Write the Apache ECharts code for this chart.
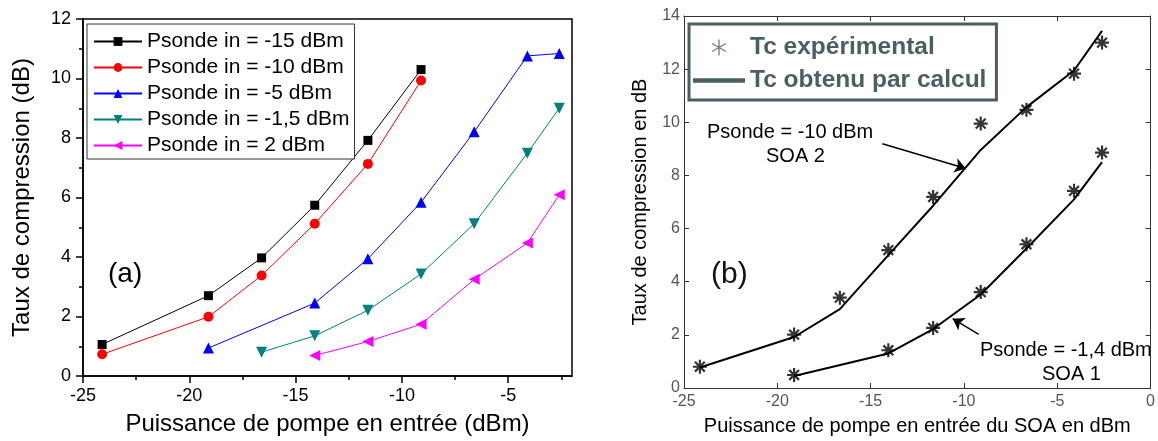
<!DOCTYPE html>
<html>
<head>
<meta charset="utf-8">
<script src="https://cdn.jsdelivr.net/npm/echarts@6/dist/echarts.min.js"></script>
<style>
html,body{margin:0;padding:0;background:#fff;}
#c{width:1158px;height:441px;}
</style>
</head>
<body>
<div id="c"></div>
<script>
// ---------- Data : panel (a) ----------
const namesA = ['Psonde in = -15 dBm','Psonde in = -10 dBm','Psonde in = -5 dBm','Psonde in = -1,5 dBm','Psonde in = 2 dBm'];
const xA15 = [-24.1,-19.1,-16.6,-14.1,-11.6,-9.1];
const yA15 = [1.06,2.70,3.97,5.74,7.92,10.30];
const xA10 = [-24.1,-19.1,-16.6,-14.1,-11.6,-9.1];
const yA10 = [0.73,1.99,3.38,5.12,7.13,9.93];
const xA5 = [-19.1,-14.1,-11.6,-9.1,-6.6,-4.1,-2.6];
const yA5 = [0.94,2.45,3.94,5.84,8.21,10.76,10.84];
const xA15b = [-16.6,-14.1,-11.6,-9.1,-6.6,-4.1,-2.6];
const yA15b = [0.80,1.35,2.21,3.43,5.12,7.49,9.00];
const xA2 = [-14.1,-11.6,-9.1,-6.6,-4.1,-2.6];
const yA2 = [0.69,1.16,1.74,3.25,4.47,6.09];
const xTicksA = [-25,-20,-15,-10,-5];
const xMinorA = [-22.5,-17.5,-12.5,-7.5,-2.5];

// ---------- Data : panel (b) ----------
const namesB = ['Tc expérimental','Tc obtenu par calcul'];
const xB2 = [-24.15,-19.1,-16.65,-14.05,-11.65,-9.1,-6.65,-4.1,-2.6];
const expSOA2 = [0.80,2.01,3.40,5.19,7.19,9.95,10.47,11.83,13.00];
const calcSOA2 = [0.77,1.92,2.97,5.00,6.86,8.96,10.57,11.95,13.44];
const xB1 = [-19.1,-14.05,-11.65,-9.1,-6.65,-4.1,-2.6];
const expSOA1 = [0.49,1.42,2.26,3.61,5.41,7.42,8.86];
const calcSOA1 = [0.45,1.30,2.22,3.52,5.25,7.10,8.50];
// annotation arrows in data units of panel (b): [from, to]
const arrowSOA2 = [[-14.37,9.19],[-9.9,8.26]];
const arrowSOA1 = [[-9.21,2.02],[-10.6,2.61]];

const zip = (xs, ys) => xs.map((x,i)=>[x, ys[i]]);
const FONT = 'Liberation Sans, Arial, sans-serif';
const SLATE = '#4a5e64';
const STAR8 = 'path://M0,-10L0,10M-10,0L10,0M-7,-7L7,7M-7,7L7,-7';
const STAR6 = 'path://M0,-10L0,10M-8.66,-5L8.66,5M-8.66,5L8.66,-5';
const BAR = 'path://M0,0L46,0L46,4L0,4Z';

const colorsA = ['#000000','#ff0000','#0000ff','#008080','#ff00ff'];
const symA = [['rect',9,0],['circle',10,0],['triangle',11,0],['triangle',11,180],['triangle',11,90]];
const dataA = [zip(xA15,yA15), zip(xA10,yA10), zip(xA5,yA5), zip(xA15b,yA15b), zip(xA2,yA2)];

const seriesA = dataA.map((d,i)=>({
  type:'line', name:namesA[i], xAxisIndex:0, yAxisIndex:0, data:d,
  symbol:symA[i][0], symbolSize:symA[i][1], symbolRotate:symA[i][2],
  lineStyle:{color:colorsA[i], width:1}, itemStyle:{color:colorsA[i]},
  animation:false, z:3
}));

const seriesB = [
  {type:'line', name:namesB[1], xAxisIndex:1, yAxisIndex:1, data:zip(xB2,calcSOA2), symbol:'none',
   lineStyle:{color:'#000', width:2}, itemStyle:{color:'#000'}, animation:false},
  {type:'line', name:namesB[1], xAxisIndex:1, yAxisIndex:1, data:zip(xB1,calcSOA1), symbol:'none',
   lineStyle:{color:'#000', width:2}, itemStyle:{color:'#000'}, animation:false},
  {type:'scatter', name:namesB[0], xAxisIndex:1, yAxisIndex:1, data:zip(xB2,expSOA2), symbol:STAR8, symbolSize:14,
   itemStyle:{color:'#000', borderColor:'#000', borderWidth:2.2}, animation:false, z:4,
   markLine:{silent:true, symbol:['none','arrow'], symbolSize:11, label:{show:false},
     lineStyle:{color:'#000', width:1.5, type:'solid'}, animation:false,
     data:[[{coord:arrowSOA2[0]},{coord:arrowSOA2[1]}],[{coord:arrowSOA1[0]},{coord:arrowSOA1[1]}]]}},
  {type:'scatter', name:namesB[0], xAxisIndex:1, yAxisIndex:1, data:zip(xB1,expSOA1), symbol:STAR8, symbolSize:14,
   itemStyle:{color:'#000', borderColor:'#000', borderWidth:2.2}, animation:false, z:4}
];

const chart = echarts.init(document.getElementById('c'), null, {renderer:'canvas'});
chart.setOption({
  backgroundColor:'#fff',
  animation:false,
  textStyle:{fontFamily:FONT},
  grid:[
    {left:83, top:19, width:489, height:363, show:true, borderColor:'#000', borderWidth:1.5, backgroundColor:'transparent'},
    {left:684, top:16, width:468, height:376}
  ],
  legend:[
    {data:namesA, orient:'vertical', left:87, top:24, itemWidth:48, itemHeight:11, itemGap:5,
     padding:[7,5,3,6], borderColor:'#333', borderWidth:1, backgroundColor:'#fff',
     textStyle:{fontSize:21, color:'#000', fontFamily:FONT, lineHeight:21}, selectedMode:false},
    {data:[{name:namesB[0], icon:STAR6, itemStyle:{color:SLATE, borderColor:SLATE, borderWidth:1.3}},
           {name:namesB[1], icon:BAR, itemStyle:{color:SLATE, borderWidth:0}}],
     orient:'vertical', left:689, top:24, itemWidth:52, itemHeight:16, itemGap:8,
     padding:[11,10,7,4], borderColor:SLATE, borderWidth:3, backgroundColor:'#fff',
     textStyle:{fontSize:24.5, fontWeight:'bold', color:SLATE, fontFamily:FONT, lineHeight:24}, selectedMode:false}
  ],
  xAxis:[
    {gridIndex:0, type:'value', min:-25, max:-2, interval:5, position:'bottom',
     name:'Puissance de pompe en entrée (dBm)', nameLocation:'middle', nameGap:36,
     nameTextStyle:{fontSize:24, color:'#000', fontFamily:FONT},
     axisLine:{onZero:false, lineStyle:{color:'#000', width:1.5}},
     axisTick:{show:true, inside:false, length:7, customValues:xTicksA, lineStyle:{color:'#000', width:1.5}},
     axisLabel:{customValues:xTicksA, fontSize:18, color:'#000', margin:11, fontFamily:FONT},
     splitLine:{show:false}},
    {gridIndex:1, type:'value', min:-25, max:0, interval:5, position:'bottom',
     name:'Puissance de pompe en entrée du SOA en dBm', nameLocation:'middle', nameGap:28,
     nameTextStyle:{fontSize:20, color:'#000', fontFamily:FONT},
     axisLine:{onZero:false, lineStyle:{color:'#333', width:1}},
     axisTick:{inside:true, length:5, lineStyle:{color:'#333'}},
     axisLabel:{fontSize:16, color:'#555', margin:6, fontFamily:FONT},
     splitLine:{show:false}},
    {gridIndex:1, type:'value', min:-25, max:0, interval:5, position:'top',
     axisLine:{onZero:false, lineStyle:{color:'#333', width:1}},
     axisTick:{inside:true, length:5, lineStyle:{color:'#333'}},
     axisLabel:{show:false}, splitLine:{show:false}},
    {gridIndex:0, type:'value', min:-25, max:-2, interval:5, position:'bottom',
     axisLine:{show:false},
     axisTick:{show:true, inside:false, length:4, customValues:xMinorA, lineStyle:{color:'#000', width:1.5}},
     axisLabel:{show:false}, splitLine:{show:false}}
  ],
  yAxis:[
    {gridIndex:0, type:'value', min:0, max:12, interval:2, position:'left',
     name:'Taux de compression (dB)', nameLocation:'middle', nameGap:49,
     nameTextStyle:{fontSize:24, color:'#000', fontFamily:FONT},
     axisLine:{onZero:false, lineStyle:{color:'#000', width:1.5}},
     axisTick:{inside:false, length:7, lineStyle:{color:'#000', width:1.5}},
     minorTick:{show:true, splitNumber:2, length:4, lineStyle:{color:'#000', width:1.5}},
     axisLabel:{fontSize:18, color:'#000', margin:12, fontFamily:FONT},
     splitLine:{show:false}, minorSplitLine:{show:false}},
    {gridIndex:1, type:'value', min:0, max:14, interval:2, position:'left',
     name:'Taux de compression en dB', nameLocation:'middle', nameGap:34,
     nameTextStyle:{fontSize:20, color:'#000', fontFamily:FONT},
     axisLine:{onZero:false, lineStyle:{color:'#333', width:1}},
     axisTick:{inside:true, length:5, lineStyle:{color:'#333'}},
     axisLabel:{fontSize:16, color:'#555', margin:4, fontFamily:FONT},
     splitLine:{show:false}},
    {gridIndex:1, type:'value', min:0, max:14, interval:2, position:'right',
     axisLine:{onZero:false, lineStyle:{color:'#333', width:1}},
     axisTick:{inside:true, length:5, lineStyle:{color:'#333'}},
     axisLabel:{show:false}, splitLine:{show:false}}
  ],
  graphic:[
    {type:'text', left:108, top:260, style:{text:'(a)', font:'28px Liberation Sans', fill:'#000'}},
    {type:'text', left:711, top:260, style:{text:'(b)', font:'30px Liberation Sans', fill:'#111'}},
    {type:'text', left:707, top:122, style:{text:'Psonde = -10 dBm', font:'20px Liberation Sans', fill:'#000'}},
    {type:'text', left:766, top:146, style:{text:'SOA 2', font:'20px Liberation Sans', fill:'#000'}},
    {type:'text', left:980, top:340, style:{text:'Psonde = -1,4 dBm', font:'20px Liberation Sans', fill:'#000'}},
    {type:'text', left:1042, top:364, style:{text:'SOA 1', font:'20px Liberation Sans', fill:'#000'}}
  ],
  series: seriesA.concat(seriesB)
});
</script>
</body>
</html>
